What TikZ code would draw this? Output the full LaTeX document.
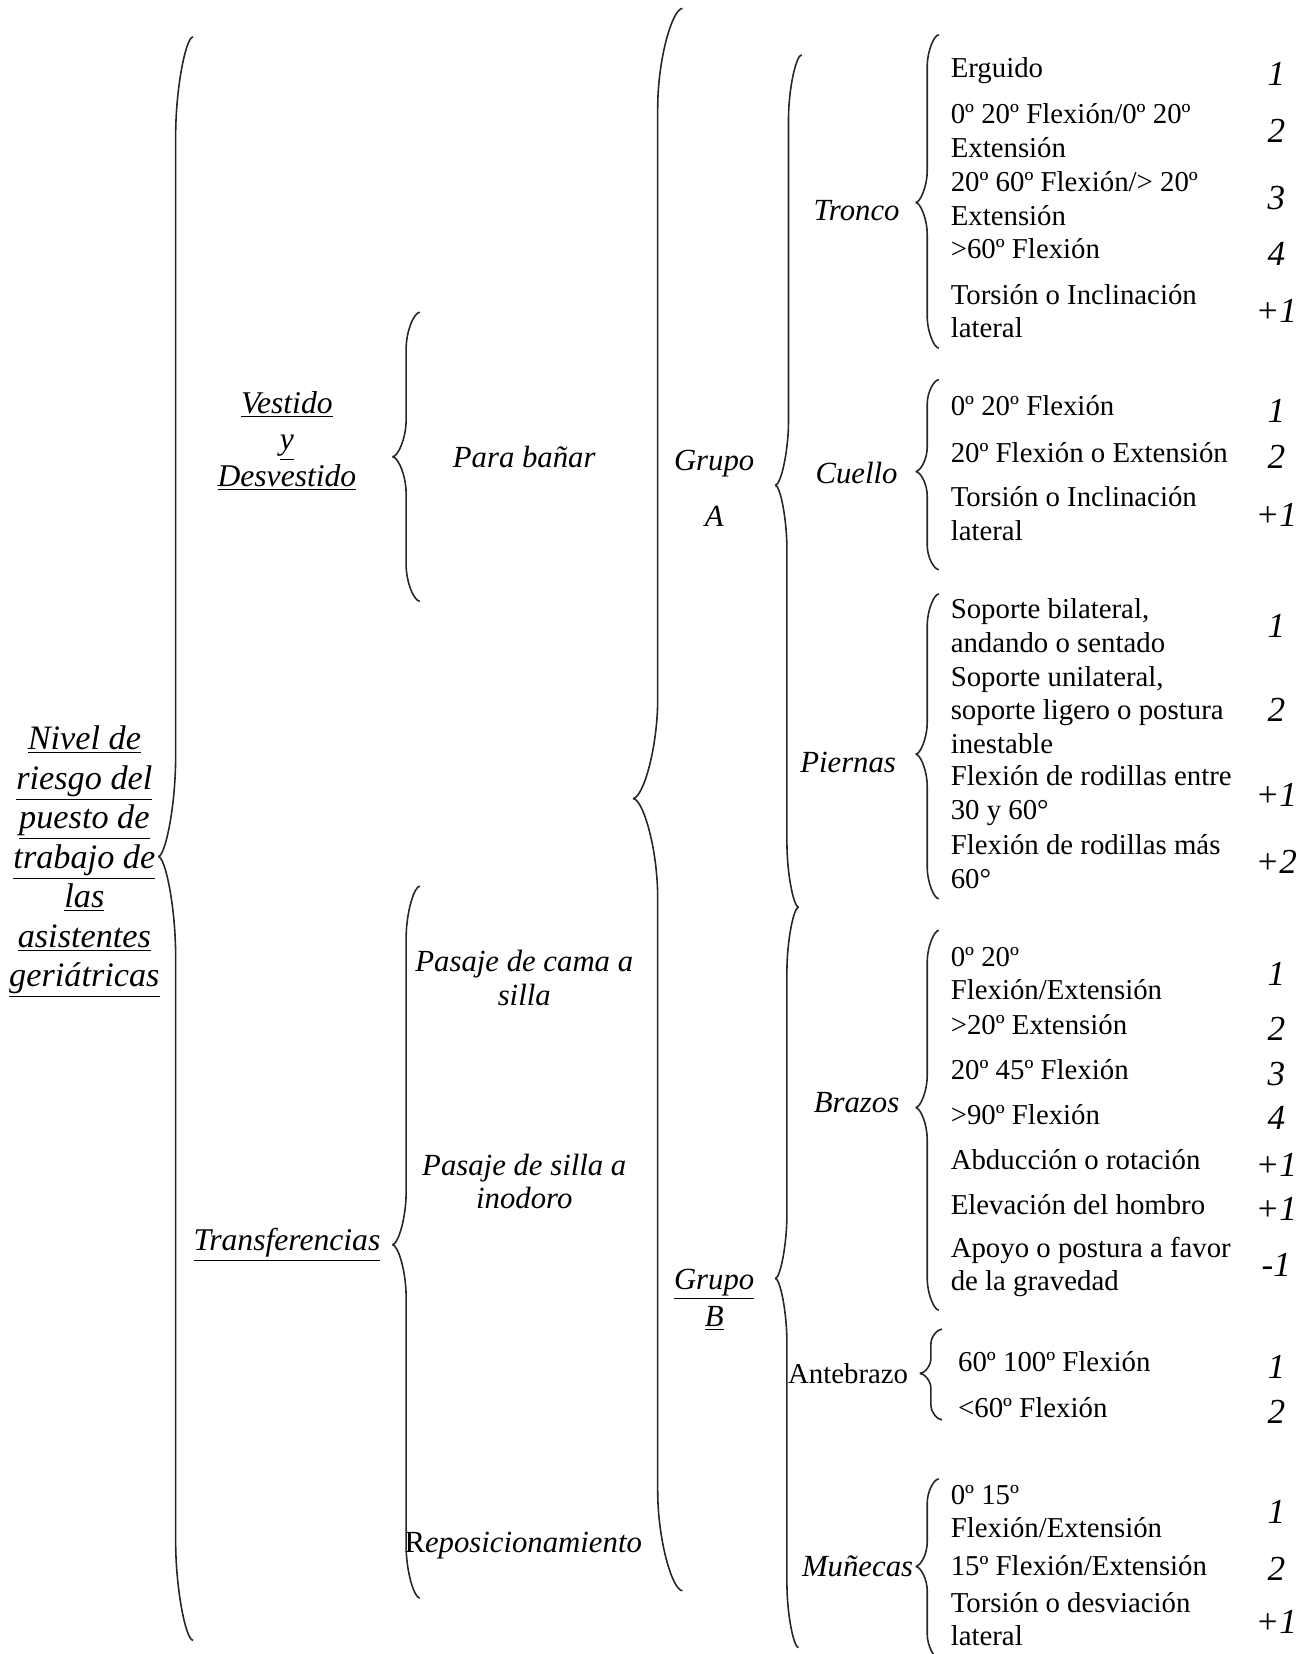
\documentclass[tikz,border=0pt]{standalone}
\usepackage{fontspec}
\setmainfont{Liberation Serif}
\usepackage{tikz}
\usetikzlibrary{positioning, calc}
\tikzstyle{titleText}=[align=center, inner sep=0pt, font=\fontsize{19.5}{22.5}\selectfont\itshape]
\tikzstyle{sideLabel}=[align=center, inner sep=0pt, font=\fontsize{18}{21}\selectfont\itshape]
\tikzstyle{partLabel}=[align=center, inner sep=0pt, font=\fontsize{17.5}{19.2}\selectfont\itshape]
\tikzstyle{itemText}=[anchor=west, align=left, inner sep=0pt, font=\fontsize{16.4}{19.2}\selectfont]
\tikzstyle{scoreText}=[inner sep=0pt, font=\fontsize{20}{24}\selectfont\itshape]
\tikzstyle{braceLine}=[line width=0.9pt, black!85]
\tikzset{
  braceHalf/.style={to path={
    let \p1=(\tikztostart), \p2=(\tikztotarget),
        \p3=($(\tikztostart)!#1!(\tikztotarget)$),
        \p4=($(\tikztotarget)!#1!(\tikztostart)$),
        \n1={0.5*\x1+0.5*\x2} in
    (\p1) .. controls (0.6*\x1+0.4*\n1,\y1) and (\n1,0.5*\y1+0.5*\y3) .. (\n1,\y3)
    -- (\n1,\y4) .. controls (\n1,0.5*\y4+0.5*\y2) and (0.6*\x2+0.4*\n1,\y2) .. (\p2)}},
  braceHalf/.default=0.6cm
}
\begin{document}
\begin{tikzpicture}[x=0.0211cm, y=-0.0211cm]
  \useasboundingbox (0,0) rectangle (1236,1568);

  % first levels
  \node[titleText] (nivel) at (80,817) {\underline{Nivel de}\\\underline{riesgo del}\\\underline{puesto de}\\\underline{trabajo de}\\\underline{las}\\\underline{asistentes}\\\underline{geriátricas}};

  \node[sideLabel] (vestido) at (272,418) {\underline{Vestido}\\\underline{y}\\\underline{Desvestido}};
  \node[sideLabel] (transf) at (272,1180) {\underline{Transferencias}};

  \node[partLabel] (banar) at (497,433) {Para bañar};
  \node[partLabel] (cama) at (497,927) {Pasaje de cama a\\silla};
  \node[partLabel] (inodoro) at (497,1120) {Pasaje de silla a\\inodoro};
  \node[partLabel] (repos) at (496,1465) {\textup{R}eposicionamiento};

  \node[partLabel] (grupoA) at (677,463) {Grupo\\[12.5pt]A};
  \node[partLabel] (grupoB) at (677,1232) {\underline{Grupo}\\[1.8pt]\underline{B}};

  \node[partLabel] (tronco) at (812,200) {Tronco};
  \node[partLabel] (cuello) at (812,448) {Cuello};
  \node[partLabel] (piernas) at (804,723) {Piernas};
  \node[partLabel] (brazos) at (812,1045) {Brazos};
  \node[itemText, anchor=center] (antebrazo) at (804,1302) {Antebrazo};
  \node[partLabel] (munecas) at (813,1485) {Muñecas};

  % braces
  \coordinate (nTop) at (183,35);   \coordinate (nTip) at (150,812);  \coordinate (nBot) at (183,1555);
  \coordinate (vTop) at (398,296);  \coordinate (vTip) at (372,433);  \coordinate (vBot) at (398,570);
  \coordinate (tTop) at (398,840);  \coordinate (tTip) at (372,1180); \coordinate (tBot) at (398,1515);
  \coordinate (gTop) at (647,8);    \coordinate (gTip) at (600,757);  \coordinate (gBot) at (647,1508);
  \coordinate (aTop) at (760,52);   \coordinate (aTip) at (735,460);  \coordinate (abMid) at (757,860);
  \coordinate (bTip) at (735,1212); \coordinate (bBot) at (757,1562);

  \draw[braceLine] (nTop) to[braceHalf=2cm] (nTip) (nBot) to[braceHalf=2cm] (nTip);
  \draw[braceLine] (vTop) to[braceHalf=0.75cm] (vTip) (vBot) to[braceHalf=0.75cm] (vTip);
  \draw[braceLine] (tTop) to[braceHalf=1.05cm] (tTip) (tBot) to[braceHalf=1.05cm] (tTip);
  \draw[braceLine] (gTop) to[braceHalf=2cm] (gTip) (gBot) to[braceHalf=2cm] (gTip);
  \draw[braceLine] (aTop) to[braceHalf=1.3cm] (aTip) (abMid) to[braceHalf=1.3cm] (aTip);
  \draw[braceLine] (abMid) to[braceHalf=1.3cm] (bTip) (bBot) to[braceHalf=1.3cm] (bTip);

  \coordinate (trTop) at (890,33);   \coordinate (trTip) at (868,192);  \coordinate (trBot) at (890,330);
  \coordinate (cuTop) at (890,360);  \coordinate (cuTip) at (868,447);  \coordinate (cuBot) at (890,540);
  \coordinate (piTop) at (890,563);  \coordinate (piTip) at (868,715);  \coordinate (piBot) at (890,852);
  \coordinate (brTop) at (890,882);  \coordinate (brTip) at (868,1050); \coordinate (brBot) at (890,1242);
  \coordinate (anTop) at (893,1260); \coordinate (anTip) at (872,1302); \coordinate (anBot) at (893,1346);
  \coordinate (muTop) at (890,1402); \coordinate (muTip) at (868,1485); \coordinate (muBot) at (890,1572);

  \draw[braceLine] (trTop) to[braceHalf=0.65cm] (trTip) (trBot) to[braceHalf=0.65cm] (trTip);
  \draw[braceLine] (cuTop) to[braceHalf=0.5cm] (cuTip) (cuBot) to[braceHalf=0.5cm] (cuTip);
  \draw[braceLine] (piTop) to[braceHalf=0.65cm] (piTip) (piBot) to[braceHalf=0.65cm] (piTip);
  \draw[braceLine] (brTop) to[braceHalf=0.65cm] (brTip) (brBot) to[braceHalf=0.65cm] (brTip);
  \draw[braceLine] (anTop) to[braceHalf=0.33cm] (anTip) (anBot) to[braceHalf=0.33cm] (anTip);
  \draw[braceLine] (muTop) to[braceHalf=0.5cm] (muTip) (muBot) to[braceHalf=0.5cm] (muTip);

  % Tronco
  \node[itemText] (tr1) at (901,67) {Erguido};
  \node[itemText] (tr2) at (901,124) {0º 20º Flexión/0º 20º\\Extensión};
  \node[itemText] (tr3) at (901,188) {20º 60º Flexión/> 20º\\Extensión};
  \node[itemText] (tr4) at (901,236) {>60º Flexión};
  \node[itemText] (tr5) at (901,295) {Torsión o Inclinación\\lateral};
  \node[scoreText] (vtr1) at (1210,70) {1};
  \node[scoreText] (vtr2) at (1210,124) {2};
  \node[scoreText] (vtr3) at (1210,188) {3};
  \node[scoreText] (vtr4) at (1210,241) {4};
  \node[scoreText] (vtr5) at (1210,295) {+1};

  % Cuello
  \node[itemText] (cu1) at (901,385) {0º 20º Flexión};
  \node[itemText] (cu2) at (901,429) {20º Flexión o Extensión};
  \node[itemText] (cu3) at (901,487) {Torsión o Inclinación\\lateral};
  \node[scoreText] (vcu1) at (1210,390) {1};
  \node[scoreText] (vcu2) at (1210,433) {2};
  \node[scoreText] (vcu3) at (1210,488) {+1};

  % Piernas
  \node[itemText] (pi1) at (901,593) {Soporte bilateral,\\andando o sentado};
  \node[itemText] (pi2) at (901,673) {Soporte unilateral,\\soporte ligero o postura\\inestable};
  \node[itemText] (pi3) at (901,754) {Flexión de rodillas entre\\30 y 60°};
  \node[itemText] (pi4) at (901,817) {Flexión de rodillas más\\60°};
  \node[scoreText] (vpi1) at (1210,593) {1};
  \node[scoreText] (vpi2) at (1210,673) {2};
  \node[scoreText] (vpi3) at (1210,754) {+1};
  \node[scoreText] (vpi4) at (1210,817) {+2};

  % Brazos
  \node[itemText] (br1) at (901,923) {0º 20º\\Flexión/Extensión};
  \node[itemText] (br2) at (901,971) {>20º Extensión};
  \node[itemText] (br3) at (901,1014) {20º 45º Flexión};
  \node[itemText] (br4) at (901,1057) {>90º Flexión};
  \node[itemText] (br5) at (901,1099) {Abducción o rotación};
  \node[itemText] (br6) at (901,1142) {Elevación del hombro};
  \node[itemText] (br7) at (901,1201) {Apoyo o postura a favor\\de la gravedad};
  \node[scoreText] (vbr1) at (1210,923) {1};
  \node[scoreText] (vbr2) at (1210,975) {2};
  \node[scoreText] (vbr3) at (1210,1018) {3};
  \node[scoreText] (vbr4) at (1210,1060) {4};
  \node[scoreText] (vbr5) at (1210,1104) {+1};
  \node[scoreText] (vbr6) at (1210,1146) {+1};
  \node[scoreText] (vbr7) at (1210,1199) {-1};

  % Antebrazo
  \node[itemText] (an1) at (908,1291) {60º 100º Flexión};
  \node[itemText] (an2) at (908,1334) {<60º Flexión};
  \node[scoreText] (van1) at (1210,1296) {1};
  \node[scoreText] (van2) at (1210,1338) {2};

  % Muñecas
  \node[itemText] (mu1) at (901,1433) {0º 15º\\Flexión/Extensión};
  \node[itemText] (mu2) at (901,1484) {15º Flexión/Extensión};
  \node[itemText] (mu3) at (901,1535) {Torsión o desviación\\lateral};
  \node[scoreText] (vmu1) at (1210,1433) {1};
  \node[scoreText] (vmu2) at (1210,1487) {2};
  \node[scoreText] (vmu3) at (1210,1538) {+1};
\end{tikzpicture}
\end{document}
